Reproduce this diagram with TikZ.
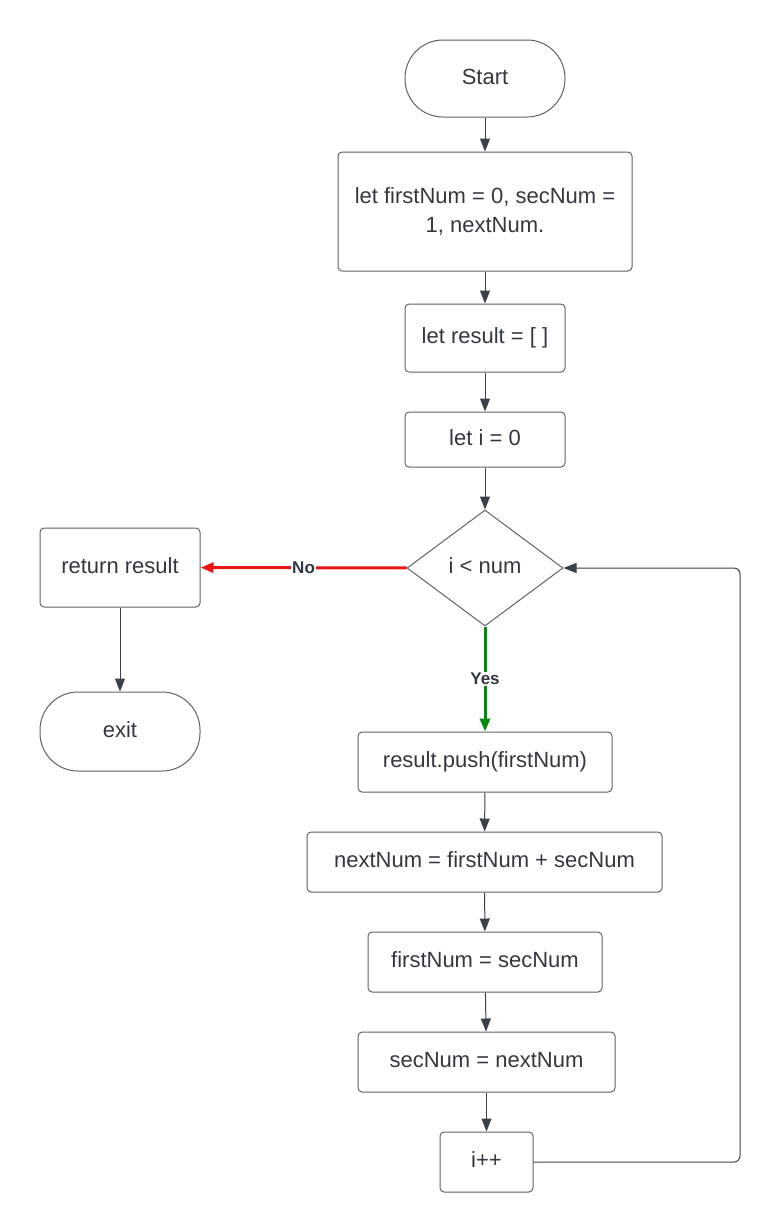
\documentclass[tikz,border=0pt]{standalone}
\usepackage{fontspec}
\setmainfont{Liberation Sans}
\usetikzlibrary{shapes.geometric,arrows.meta}
\definecolor{edge}{HTML}{3A414A}
\definecolor{border}{HTML}{5E6166}
\definecolor{txt}{HTML}{333840}
\definecolor{nored}{HTML}{E81416}
\definecolor{yesgreen}{HTML}{008A0E}
\tikzset{
    box/.style={rectangle, draw=border, line width=1pt, rounded corners=4pt, text=txt, align=center, inner sep=0pt, text height=16pt, text depth=5pt},
    term/.style={rectangle, draw=border, line width=1pt, rounded corners=38pt, text=txt, inner sep=0pt, text height=16pt, text depth=5pt},
    decision/.style={diamond, draw=border, line width=1pt, text=txt, inner sep=0pt, aspect=1.34, text height=16pt, text depth=5pt},
    flow/.style={draw=edge, line width=1pt, -{Triangle[length=13pt,width=10pt]}},
    lbl/.style={font=\fontsize{17}{17}\selectfont\bfseries, fill=white, text=txt, inner sep=1pt}
}

\begin{document}
\begin{tikzpicture}[x=1pt, y=-1pt, font=\fontsize{22}{29}\selectfont]
    \useasboundingbox (0,0) rectangle (780,1232);

    % Nodes
    \node[term, minimum width=160pt, minimum height=77pt] (start) at (485,78.5) {Start};
    \node[box, text height={}, text depth={}, minimum width=294pt, minimum height=119pt] (init) at (485,211.5) {let firstNum = 0, secNum =\\1, nextNum.};
    \node[box, minimum width=160pt, minimum height=68pt] (res) at (485,338) {let result = [ ]};
    \node[box, minimum width=160pt, minimum height=55pt] (seti) at (485,439.5) {let i = 0};
    \node[decision, minimum width=156pt, minimum height=116pt] (cond) at (485,568) {i < num};
    \node[box, minimum width=160pt, minimum height=79pt] (ret) at (120,567.5) {return result};
    \node[term, minimum width=160pt, minimum height=79pt] (exit) at (120,731.5) {exit};
    \node[box, minimum width=254pt, minimum height=60pt] (push) at (485,762) {result.push(firstNum)};
    \node[box, minimum width=355pt, minimum height=60pt] (next) at (484.5,862) {nextNum = firstNum + secNum};
    \node[box, minimum width=234pt, minimum height=60pt] (first) at (485,962) {firstNum = secNum};
    \node[box, minimum width=257pt, minimum height=60pt] (sec) at (486.5,1062) {secNum = nextNum};
    \node[box, minimum width=93pt, minimum height=60pt] (inc) at (486.5,1162) {i++};
    \coordinate (loop) at (740,568);

    % Edges
    \draw[flow] (start) -- (init);
    \draw[flow] (init) -- (res);
    \draw[flow] (res) -- (seti);
    \draw[flow] (seti) -- (cond);
    \draw[flow, draw=nored, line width=3pt] (cond) -- node[lbl] {No} (ret);
    \draw[flow] (ret) -- (exit);
    \draw[flow, draw=yesgreen, line width=3pt] (cond) -- node[lbl] {Yes} (push);
    \draw[flow] (push) -- (next);
    \draw[flow] (next) -- (first);
    \draw[flow] (first) -- (sec);
    \draw[flow] (sec) -- (inc);
    \draw[flow, rounded corners=6pt] (inc.east) -| (loop) -- (cond.east);
\end{tikzpicture}
\end{document}
